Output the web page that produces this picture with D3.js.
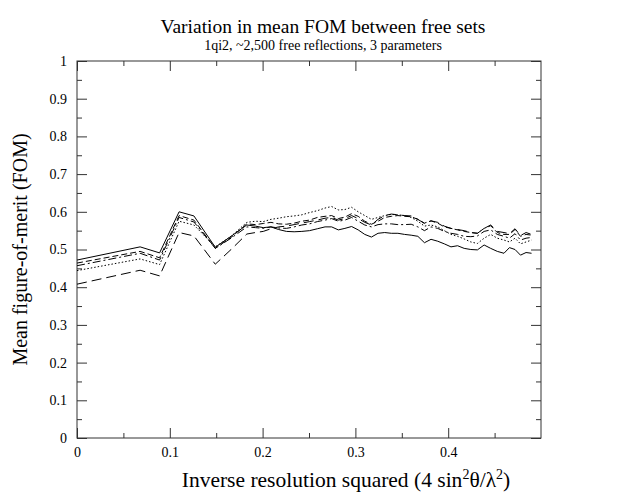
<!DOCTYPE html>
<html><head><meta charset="utf-8">
<script src="https://cdn.jsdelivr.net/npm/d3@7"></script>
<style>body{margin:0;background:#fff}svg{display:block}text{font-family:"Liberation Serif","DejaVu Serif",serif;fill:#000}</style>
</head><body>
<svg id="c" width="617" height="495"></svg>
<script>
const xs = [0, 0.068, 0.089, 0.110, 0.126, 0.149, 0.166, 0.183, 0.1923, 0.2007, 0.209, 0.2173, 0.2257, 0.234, 0.2423, 0.2506, 0.259, 0.2673, 0.2744, 0.2816, 0.2887, 0.2959, 0.303, 0.3101, 0.3173, 0.3244, 0.3316, 0.3387, 0.3458, 0.353, 0.3601, 0.3673, 0.3744, 0.3815, 0.3887, 0.3958, 0.403, 0.4101, 0.4172, 0.4244, 0.4315, 0.4387, 0.4458, 0.4529, 0.4601, 0.466, 0.472, 0.4779, 0.4839, 0.4898];
const setSolid = [0.472, 0.507, 0.491, 0.600, 0.589, 0.506, 0.535, 0.565, 0.562, 0.558, 0.560, 0.553, 0.548, 0.547, 0.548, 0.550, 0.555, 0.560, 0.560, 0.552, 0.556, 0.561, 0.552, 0.540, 0.533, 0.543, 0.545, 0.543, 0.543, 0.540, 0.538, 0.535, 0.518, 0.527, 0.522, 0.515, 0.507, 0.510, 0.503, 0.500, 0.499, 0.512, 0.503, 0.495, 0.490, 0.505, 0.500, 0.485, 0.492, 0.490];
const setDash = [0.464, 0.495, 0.478, 0.590, 0.578, 0.503, 0.532, 0.568, 0.566, 0.569, 0.572, 0.568, 0.567, 0.570, 0.575, 0.578, 0.585, 0.588, 0.590, 0.582, 0.586, 0.595, 0.588, 0.575, 0.567, 0.575, 0.585, 0.588, 0.590, 0.588, 0.587, 0.580, 0.570, 0.576, 0.570, 0.560, 0.556, 0.552, 0.548, 0.545, 0.543, 0.556, 0.563, 0.545, 0.540, 0.540, 0.553, 0.535, 0.540, 0.538];
const setDashDot = [0.457, 0.490, 0.472, 0.585, 0.573, 0.503, 0.530, 0.560, 0.558, 0.556, 0.560, 0.557, 0.556, 0.560, 0.565, 0.568, 0.574, 0.578, 0.582, 0.575, 0.578, 0.585, 0.575, 0.565, 0.560, 0.566, 0.568, 0.568, 0.566, 0.566, 0.567, 0.560, 0.550, 0.560, 0.556, 0.548, 0.543, 0.540, 0.535, 0.534, 0.536, 0.548, 0.552, 0.540, 0.535, 0.530, 0.542, 0.525, 0.530, 0.532];
const setDotted = [0.444, 0.475, 0.460, 0.575, 0.565, 0.507, 0.535, 0.572, 0.575, 0.574, 0.580, 0.583, 0.587, 0.589, 0.592, 0.598, 0.603, 0.610, 0.614, 0.605, 0.606, 0.612, 0.600, 0.590, 0.580, 0.585, 0.590, 0.593, 0.592, 0.590, 0.585, 0.575, 0.562, 0.565, 0.560, 0.550, 0.540, 0.535, 0.528, 0.520, 0.516, 0.530, 0.540, 0.530, 0.525, 0.520, 0.530, 0.515, 0.520, 0.525];
const setLongDash = [0.408, 0.445, 0.430, 0.545, 0.536, 0.461, 0.500, 0.541, 0.545, 0.548, 0.555, 0.560, 0.562, 0.566, 0.570, 0.574, 0.578, 0.583, 0.585, 0.578, 0.582, 0.590, 0.582, 0.572, 0.565, 0.580, 0.590, 0.594, 0.592, 0.590, 0.589, 0.580, 0.569, 0.576, 0.572, 0.562, 0.556, 0.553, 0.550, 0.545, 0.543, 0.556, 0.565, 0.548, 0.545, 0.542, 0.555, 0.537, 0.545, 0.540];
const xTicks = [0, 0.1, 0.2, 0.3, 0.4];
const xTickLabels = ["0", "0.1", "0.2", "0.3", "0.4"];
const yTicks = [0, 0.1, 0.2, 0.3, 0.4, 0.5, 0.6, 0.7, 0.8, 0.9, 1];
const yTickLabels = ["0", "0.1", "0.2", "0.3", "0.4", "0.5", "0.6", "0.7", "0.8", "0.9", "1"];

const series = [
  {v: setSolid, dash: null},
  {v: setDash, dash: "6,3"},
  {v: setDashDot, dash: "8,3,2,3"},
  {v: setDotted, dash: "1.5,2"},
  {v: setLongDash, dash: "10,5"}
];

const L = 77, R = 541, T = 61, B = 438;
const svg = d3.select("#c");
const x = d3.scaleLinear().domain([0, 0.5]).range([L, R]);
const y = d3.scaleLinear().domain([0, 1]).range([B, T]);

const fmt = (d) => { const i = xTicks.indexOf(d); return i >= 0 ? xTickLabels[i] : ""; };
const fmtY = (d) => { const i = yTicks.findIndex(t => Math.abs(t - d) < 1e-9); return i >= 0 ? yTickLabels[i] : ""; };
const xMinor = [0.05, 0.15, 0.25, 0.35, 0.45];
const yMinor = [0.05, 0.15, 0.25, 0.35, 0.45, 0.55, 0.65, 0.75, 0.85, 0.95];

function styleAxis(g){ g.select(".domain").remove(); g.selectAll("line").attr("stroke","#333").attr("stroke-width",1); }

svg.append("g").attr("transform",`translate(0,${B})`)
  .call(d3.axisBottom(x).tickValues(xTicks).tickSize(-10).tickPadding(9).tickFormat(fmt))
  .call(styleAxis).call(g=>g.selectAll("text").attr("font-size",14).attr("font-family","Liberation Serif"));
svg.append("g").attr("transform",`translate(0,${B})`)
  .call(d3.axisBottom(x).tickValues(xMinor).tickSize(-5).tickFormat(""))
  .call(styleAxis);
svg.append("g").attr("transform",`translate(0,${T})`)
  .call(d3.axisTop(x).tickValues(xTicks).tickSize(-10).tickFormat(""))
  .call(styleAxis);
svg.append("g").attr("transform",`translate(0,${T})`)
  .call(d3.axisTop(x).tickValues(xMinor).tickSize(-5).tickFormat(""))
  .call(styleAxis);
svg.append("g").attr("transform",`translate(${L},0)`)
  .call(d3.axisLeft(y).tickValues(yTicks).tickSize(-10).tickPadding(10).tickFormat(fmtY))
  .call(styleAxis).call(g=>g.selectAll("text").attr("font-size",14).attr("font-family","Liberation Serif"));
svg.append("g").attr("transform",`translate(${L},0)`)
  .call(d3.axisLeft(y).tickValues(yMinor).tickSize(-5).tickFormat(""))
  .call(styleAxis);
svg.append("g").attr("transform",`translate(${R},0)`)
  .call(d3.axisRight(y).tickValues(yTicks).tickSize(-10).tickFormat(""))
  .call(styleAxis);
svg.append("g").attr("transform",`translate(${R},0)`)
  .call(d3.axisRight(y).tickValues(yMinor).tickSize(-5).tickFormat(""))
  .call(styleAxis);

svg.append("rect").attr("x",L).attr("y",T).attr("width",R-L).attr("height",B-T)
  .attr("fill","none").attr("stroke","#333").attr("stroke-width",1);

const line = d3.line().x((d,i)=>x(xs[i])).y(d=>y(d));
series.forEach(s=>{
  svg.append("path").datum(s.v).attr("d",line).attr("fill","none")
    .attr("stroke","#000").attr("stroke-width",1)
    .attr("stroke-dasharray", s.dash);
});

const cx = 323;
svg.append("text").attr("x",cx).attr("y",33).attr("text-anchor","middle").attr("font-size",19.5)
  .text("Variation in mean FOM between free sets");
svg.append("text").attr("x",cx).attr("y",50).attr("text-anchor","middle").attr("font-size",14)
  .text("1qi2, ~2,500 free reflections, 3 parameters");

svg.append("text").attr("transform",`translate(27,${(T+B)/2}) rotate(-90)`).attr("text-anchor","middle")
  .attr("font-size",20).text("Mean figure-of-merit (FOM)");

const xl = svg.append("text").attr("x",346).attr("y",487).attr("text-anchor","middle").attr("font-size",21.5);
xl.append("tspan").text("Inverse resolution squared (4 sin");
xl.append("tspan").attr("font-size",14).attr("dy",-8).text("2");
xl.append("tspan").attr("dy",8).text("θ/λ");
xl.append("tspan").attr("font-size",14).attr("dy",-8).text("2");
xl.append("tspan").attr("dy",8).text(")");
</script>
</body></html>
